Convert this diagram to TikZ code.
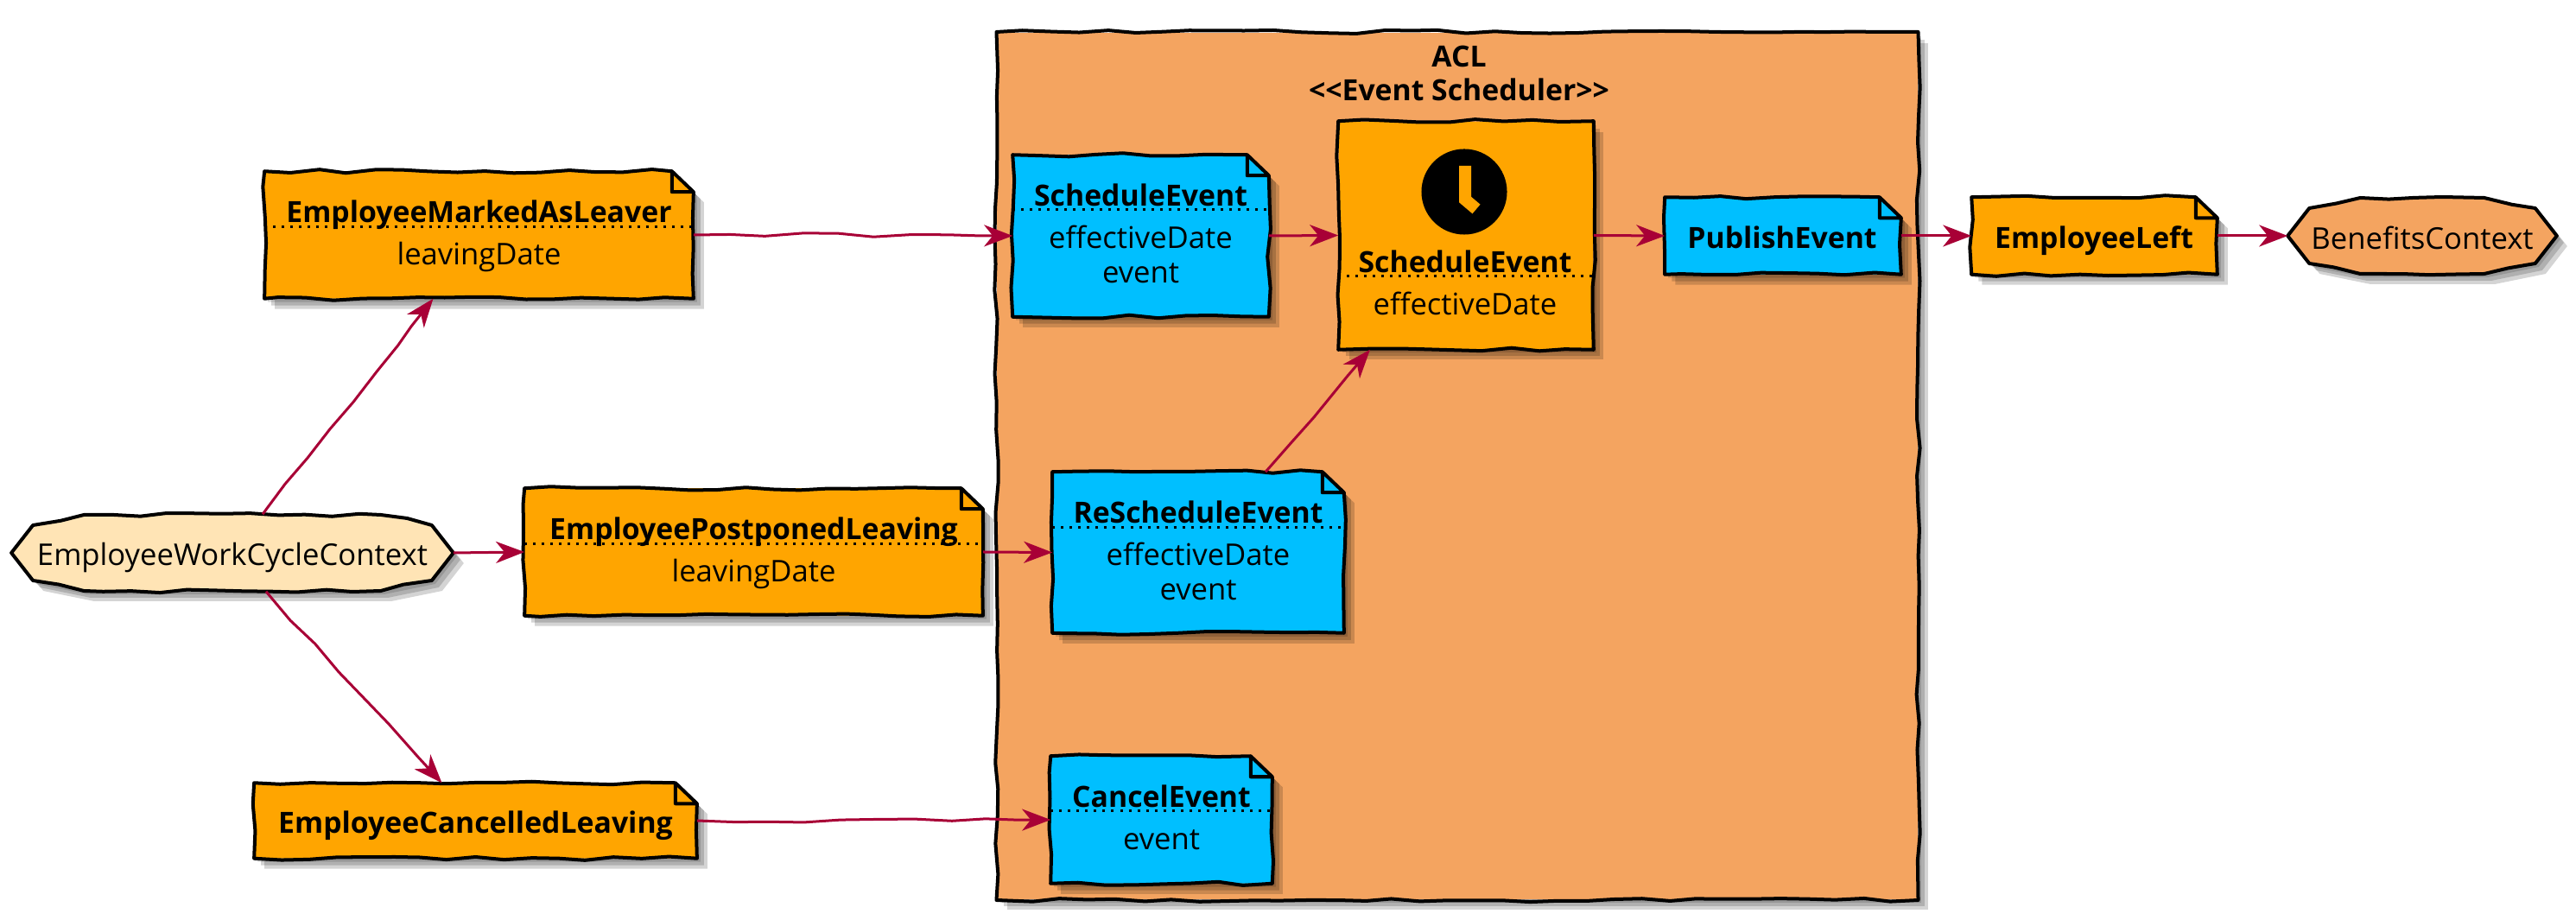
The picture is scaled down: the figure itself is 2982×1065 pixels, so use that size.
\documentclass[tikz,border=0pt]{standalone}
\usepackage{fontspec}
\setmainfont{Open Sans}
\usetikzlibrary{arrows.meta,calc,shadows,backgrounds,decorations.pathmorphing}
\definecolor{flowred}{HTML}{A80036}
\definecolor{eventorange}{HTML}{FFA500}
\definecolor{cmdblue}{HTML}{00BFFF}
\definecolor{aclsand}{HTML}{F4A460}
\definecolor{ctxmoccasin}{HTML}{FFE4B5}
\tikzset{
  softshadow/.style={
    drop shadow={shadow xshift=.04cm,shadow yshift=-.04cm,opacity=.14,fill=black},
    drop shadow={shadow xshift=.08cm,shadow yshift=-.08cm,opacity=.17,fill=black},
    drop shadow={shadow xshift=.12cm,shadow yshift=-.12cm,opacity=.17,fill=black}},
  edgeline/.style={draw=black,line width=.04cm,line join=round,line cap=round,
    decoration={random steps,segment length=.32cm,amplitude=.022cm}},
  notebox/.style={rectangle,inner sep=0pt},
  plainbox/.style={rectangle,inner sep=0pt,softshadow},
  titletext/.style={font=\fontsize{9.6}{11.4}\selectfont\bfseries,inner sep=0pt,anchor=base,yshift=-.03cm},
  bodytext/.style={font=\fontsize{9.85}{11.4}\selectfont,inner sep=0pt,anchor=base,yshift=-.03cm},
  divider/.style={line width=.03cm,dotted,black},
  flow/.style={draw=flowred,line width=.03cm,-{Stealth[length=.33cm,width=.25cm,inset=.1cm]},
    decorate,decoration={random steps,segment length=.42cm,amplitude=.025cm,post=lineto,post length=.4cm}}
}
\begin{document}
\begin{tikzpicture}[x=0.01cm,y=-0.01cm]
    \pgfmathsetseed{42}
    \useasboundingbox (0,0) rectangle (2982,1065);
    % the ACL frame
    \begin{scope}[on background layer]
      \node[plainbox,fill=aclsand,minimum width=10.65cm,minimum height=10.03cm] (acl) at (1687,539.5) {};
    \end{scope}
    \node[titletext] (acl_title) at (1689,75) {ACL};
    \node[titletext] (acl_stereo) at (1689,114) {<{}<Event Scheduler>{}>};
    % left side
    \node[notebox,minimum width=5.1cm,minimum height=.88cm] (ctx) at (269,640) {};
    \node[bodytext] (ctx_text) at (269,652) {EmployeeWorkCycleContext};
    \node[notebox,minimum width=4.95cm,minimum height=1.46cm] (leaver) at (554.5,272) {};
    \node[titletext] (leaver_title) at (554.5,255) {EmployeeMarkedAsLeaver};
    \node[bodytext] (leaver_body) at (554.5,304) {leavingDate};
    \draw[divider] (leaver.west |- 0,263) -- (leaver.east |- 0,263);
    \node[notebox,minimum width=5.29cm,minimum height=1.46cm] (postponed) at (872.5,639) {};
    \node[titletext] (postponed_title) at (872.5,622) {EmployeePostponedLeaving};
    \node[bodytext] (postponed_body) at (872.5,671) {leavingDate};
    \draw[divider] (postponed.west |- 0,630) -- (postponed.east |- 0,630);
    \node[notebox,minimum width=5.11cm,minimum height=.86cm] (cancelled) at (550.5,950) {};
    \node[titletext] (cancelled_title) at (550.5,962) {EmployeeCancelledLeaving};
    % inside the ACL
    \node[notebox,minimum width=2.95cm,minimum height=1.86cm] (sched_in) at (1320.5,273) {};
    \node[titletext] (sched_in_title) at (1320.5,236) {ScheduleEvent};
    \node[bodytext] (sched_in_date) at (1320.5,285) {effectiveDate};
    \node[bodytext] (sched_in_event) at (1320.5,325) {event};
    \draw[divider] (sched_in.west |- 0,243) -- (sched_in.east |- 0,243);
    \node[notebox,minimum width=3.36cm,minimum height=1.85cm] (resched) at (1387,639.5) {};
    \node[titletext] (resched_title) at (1387,603) {ReScheduleEvent};
    \node[bodytext] (resched_date) at (1387,652) {effectiveDate};
    \node[bodytext] (resched_event) at (1387,692) {event};
    \draw[divider] (resched.west |- 0,611) -- (resched.east |- 0,611);
    \node[notebox,minimum width=2.55cm,minimum height=1.46cm] (cancel) at (1344.5,949) {};
    \node[titletext] (cancel_title) at (1344.5,932) {CancelEvent};
    \node[bodytext] (cancel_body) at (1344.5,981) {event};
    \draw[divider] (cancel.west |- 0,939) -- (cancel.east |- 0,939);
    \node[plainbox,fill=eventorange,minimum width=2.94cm,minimum height=2.63cm] (sched) at (1697,272.5) {};
    \node[circle,fill=black,inner sep=0pt,minimum size=.99cm] (clock) at (1695,222) {};
    \draw[eventorange,line width=.14cm] (1696,192) -- (1696,231) -- (1709,242);
    \node[titletext] (sched_title) at (1696,313) {ScheduleEvent};
    \node[bodytext] (sched_body) at (1696,362) {effectiveDate};
    \draw[divider] (sched.west |- 0,320) -- (sched.east |- 0,320);
    \node[notebox,minimum width=2.72cm,minimum height=.88cm] (publish) at (2064,273) {};
    \node[titletext] (publish_title) at (2063,285) {PublishEvent};
    % right side
    \node[notebox,minimum width=2.83cm,minimum height=.88cm] (left) at (2424.5,273) {};
    \node[titletext] (left_title) at (2424,285) {EmployeeLeft};
    \node[notebox,minimum width=3.1cm,minimum height=.88cm] (benefits) at (2804,273) {};
    \node[bodytext] (benefits_text) at (2804,286) {BenefitsContext};
    % the two contexts
    \foreach \n/\c in {ctx/ctxmoccasin,benefits/aclsand} {
      \coordinate (h1) at (\n.west);
      \coordinate (h2) at ($(\n.west)+(25,-32)$);
      \coordinate (h3) at ($(\n.west)+(84,-44)$);
      \coordinate (h4) at ($(\n.east)+(-84,-44)$);
      \coordinate (h5) at ($(\n.east)+(-25,-32)$);
      \coordinate (h6) at (\n.east);
      \coordinate (h7) at ($(\n.east)+(-25,32)$);
      \coordinate (h8) at ($(\n.east)+(-84,44)$);
      \coordinate (h9) at ($(\n.west)+(84,44)$);
      \coordinate (h10) at ($(\n.west)+(25,32)$);
      \begin{scope}[on background layer]
        \fill[\c,softshadow] (h1) -- (h2) -- (h3) -- (h4) -- (h5) -- (h6) -- (h7) -- (h8) -- (h9) -- (h10) -- cycle;
      \end{scope}
      \draw[edgeline] decorate {(h1) -- (h2)} decorate {(h2) -- (h3)} decorate {(h3) -- (h4)} decorate {(h4) -- (h5)} decorate {(h5) -- (h6)}
        decorate {(h6) -- (h7)} decorate {(h7) -- (h8)} decorate {(h8) -- (h9)} decorate {(h9) -- (h10)} decorate {(h10) -- (h1)};
    }
    % the notes, with the folded corner
    \foreach \n/\c in {leaver/eventorange,postponed/eventorange,cancelled/eventorange,sched_in/cmdblue,resched/cmdblue,cancel/cmdblue,publish/cmdblue,left/eventorange} {
      \coordinate (nw) at (\n.north west);
      \coordinate (ne) at (\n.north east);
      \coordinate (se) at (\n.south east);
      \coordinate (sw) at (\n.south west);
      \coordinate (fa) at ($(ne)+(-25,0)$);
      \coordinate (fb) at ($(ne)+(0,24)$);
      \coordinate (fc) at ($(ne)+(-25,24)$);
      \begin{scope}[on background layer]
        \fill[\c,softshadow] (nw) -- (fa) -- (fb) -- (se) -- (sw) -- cycle;
      \end{scope}
      \draw[edgeline] decorate {(nw) -- (fa)} decorate {(fa) -- (fb)} decorate {(fb) -- (se)} decorate {(se) -- (sw)} decorate {(sw) -- (nw)}
        decorate {(fa) -- (fc)} decorate {(fc) -- (fb)};
    }
    \foreach \n in {acl,sched} {
      \coordinate (nw) at (\n.north west);
      \coordinate (ne) at (\n.north east);
      \coordinate (se) at (\n.south east);
      \coordinate (sw) at (\n.south west);
      \draw[edgeline] decorate {(nw) -- (ne)} decorate {(ne) -- (se)} decorate {(se) -- (sw)} decorate {(sw) -- (nw)};
    }
    % connectors
    \draw[flow] ([xshift=.35cm]ctx.north) -- ([xshift=-.53cm]leaver.south);
    \draw[flow] (ctx.east) -- (postponed.west);
    \draw[flow] ([xshift=.39cm]ctx.south) -- ([xshift=-.39cm]cancelled.north);
    \draw[flow] (leaver.east) -- (sched_in.west);
    \draw[flow] (postponed.east) -- (resched.west);
    \draw[flow] (cancelled.east) -- (cancel.west);
    \draw[flow] (sched_in.east) -- (sched.west);
    \draw[flow] ([xshift=.78cm]resched.north) -- ([xshift=-1.11cm]sched.south);
    \draw[flow] (sched.east) -- (publish.west);
    \draw[flow] (publish.east) -- (left.west);
    \draw[flow] (left.east) -- (benefits.west);
\end{tikzpicture}
\end{document}
